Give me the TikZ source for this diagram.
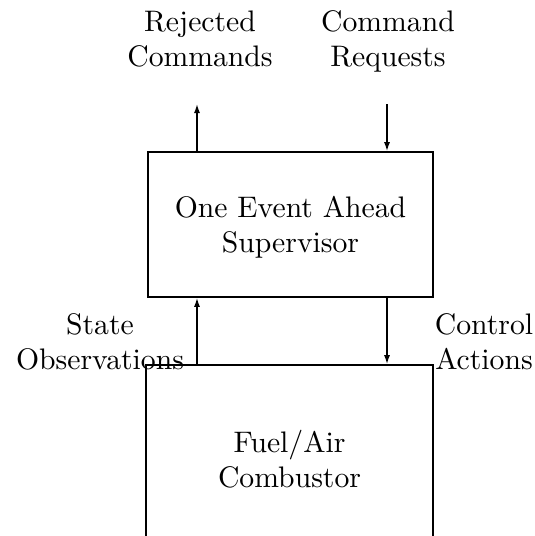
\documentclass[tikz,border=0pt]{standalone}
\usepackage{graphicx}
\usetikzlibrary{arrows.meta}
\newcommand{\bigtext}[1]{\scalebox{2.97}{\renewcommand{\arraystretch}{0.99}\begin{tabular}{@{}c@{}}#1\end{tabular}}}
\begin{document}
\begin{tikzpicture}[x=1pt,y=-1pt,
  box/.style={draw,line width=1.6pt,inner sep=0pt},
  lbl/.style={inner sep=0pt},
  conn/.style={line width=1.5pt,-{Latex[length=9pt,width=6pt]}}]
\useasboundingbox (0,0) rectangle (535,536);
\node[box,minimum width=285pt,minimum height=145pt] (sup) at (290.5,224.5) {};
\node[box,minimum width=287pt,minimum height=172pt] (comb) at (289.5,451) {};
\node[lbl] (supt) at (290.5,228) {\bigtext{One Event Ahead\\Supervisor}};
\node[lbl] (combt) at (289.5,463) {\bigtext{Fuel/Air\\Combustor}};
\node[lbl] (rej) at (200,42) {\bigtext{Rejected\\Commands}};
\node[lbl] (req) at (388,42) {\bigtext{Command\\Requests}};
\node[lbl] (obs) at (100,345) {\bigtext{State\\Observations}};
\node[lbl] (act) at (484,345) {\bigtext{Control\\Actions}};
\coordinate (lx) at (197,0);
\coordinate (rx) at (387,0);
\coordinate (rejend) at (197,104);
\coordinate (reqstart) at (387,104);
\draw[conn] (sup.north -| lx) -- (rejend);
\draw[conn] (reqstart) -- (sup.north -| rx);
\draw[conn] (comb.north -| lx) -- (sup.south -| lx);
\draw[conn] (sup.south -| rx) -- (comb.north -| rx);
\end{tikzpicture}
\end{document}
